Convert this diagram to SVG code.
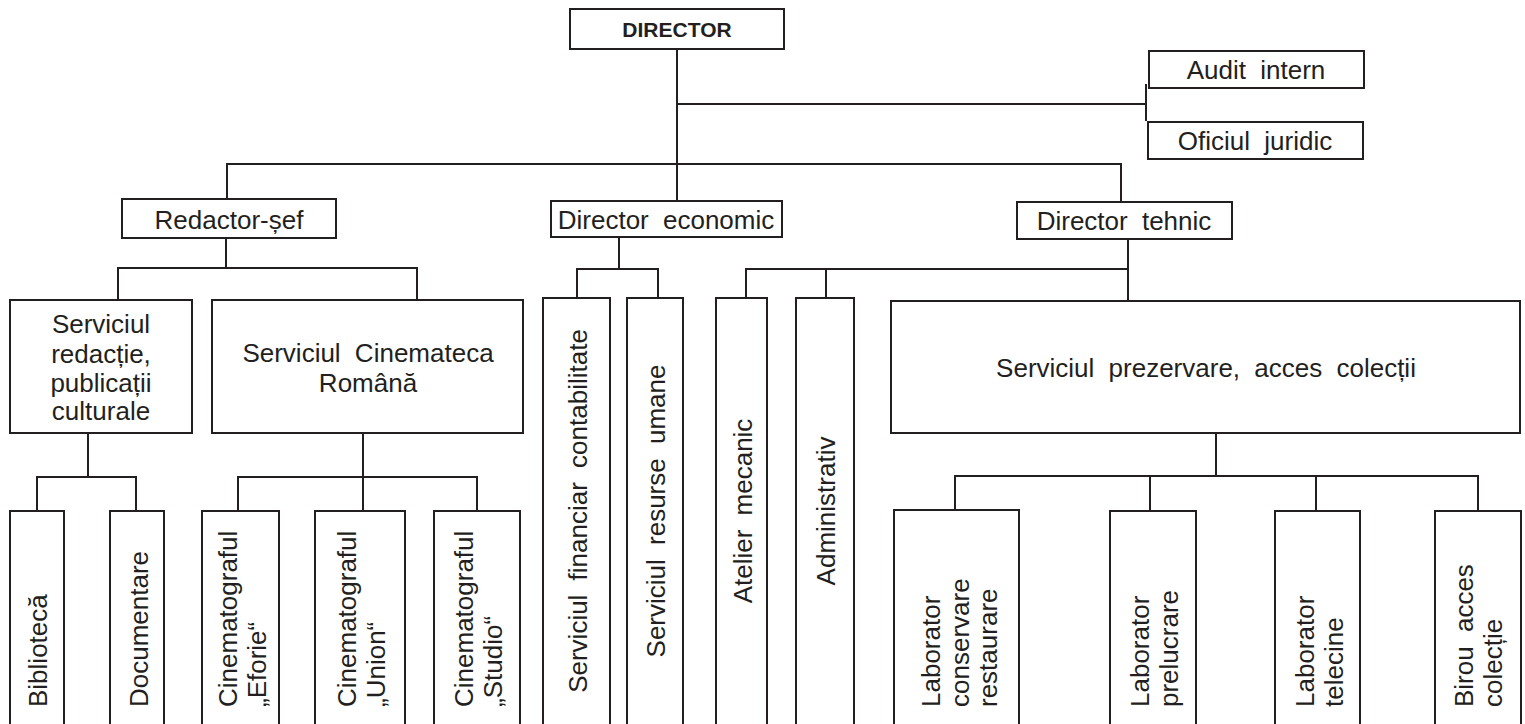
<svg xmlns="http://www.w3.org/2000/svg" width="1525" height="724" viewBox="0 0 1525 724">
<style>
rect.b{fill:#fff;stroke:#231f20;stroke-width:2}
.c line{stroke:#231f20;stroke-width:2}
text{font-family:"Liberation Sans",Arial,sans-serif;font-size:26px;fill:#231f20;word-spacing:7px}
text.m{text-anchor:middle}
text.bold{font-weight:bold;font-size:21px;text-anchor:middle}
</style>
<rect width="1525" height="724" fill="#fff"/>
<g class="c" id="connectors">
<line x1="677" y1="49" x2="677" y2="201"/>
<line x1="677" y1="104" x2="1146" y2="104"/>
<line x1="1146" y1="84" x2="1146" y2="121"/>
<line x1="226" y1="164" x2="1122" y2="164"/>
<line x1="227" y1="164" x2="227" y2="199"/>
<line x1="1121" y1="164" x2="1121" y2="202"/>
<line x1="226" y1="238" x2="226" y2="268"/>
<line x1="117" y1="268" x2="418" y2="268"/>
<line x1="118" y1="268" x2="118" y2="300"/>
<line x1="417" y1="268" x2="417" y2="300"/>
<line x1="619" y1="237" x2="619" y2="269"/>
<line x1="576" y1="269" x2="659" y2="269"/>
<line x1="577" y1="269" x2="577" y2="298"/>
<line x1="658" y1="269" x2="658" y2="298"/>
<line x1="1128" y1="239" x2="1128" y2="301"/>
<line x1="745" y1="269" x2="1128" y2="269"/>
<line x1="746" y1="269" x2="746" y2="298"/>
<line x1="826" y1="269" x2="826" y2="298"/>
<line x1="88" y1="433" x2="88" y2="477"/>
<line x1="36" y1="477" x2="137" y2="477"/>
<line x1="37" y1="477" x2="37" y2="511"/>
<line x1="136" y1="477" x2="136" y2="511"/>
<line x1="363" y1="433" x2="363" y2="511"/>
<line x1="237" y1="477" x2="478" y2="477"/>
<line x1="238" y1="477" x2="238" y2="511"/>
<line x1="477" y1="477" x2="477" y2="511"/>
<line x1="1216" y1="433" x2="1216" y2="476"/>
<line x1="954" y1="476" x2="1479" y2="476"/>
<line x1="955" y1="476" x2="955" y2="510"/>
<line x1="1150" y1="476" x2="1150" y2="511"/>
<line x1="1316" y1="476" x2="1316" y2="511"/>
<line x1="1478" y1="476" x2="1478" y2="511"/>
</g>
<g id="director"><rect class="b" x="570" y="9" width="214" height="40"/><text class="bold" x="677" y="37">DIRECTOR</text></g>
<g id="audit"><rect class="b" x="1149" y="51" width="215" height="37"/><text class="m" x="1256" y="79">Audit intern</text></g>
<g id="oficiul"><rect class="b" x="1148" y="122" width="215" height="37"/><text class="m" x="1255" y="150">Oficiul juridic</text></g>
<g id="redactor"><rect class="b" x="122" y="199" width="214" height="39"/><text class="m" x="229" y="229">Redactor-șef</text></g>
<g id="dir-economic"><rect class="b" x="551" y="201" width="231" height="36"/><text class="m" x="666" y="229">Director economic</text></g>
<g id="dir-tehnic"><rect class="b" x="1017" y="202" width="215" height="37"/><text class="m" x="1124" y="230">Director tehnic</text></g>
<g id="redactie"><rect class="b" x="10" y="300" width="182" height="133"/><text class="m" x="101" y="333">Serviciul<tspan x="101" dy="29.5">redacție,</tspan><tspan x="101" dy="29">publicații</tspan><tspan x="101" dy="28.5">culturale</tspan></text></g>
<g id="cinemateca"><rect class="b" x="212" y="300" width="311" height="133"/><text class="m" x="368" y="362">Serviciul Cinemateca<tspan x="368" dy="30">Română</tspan></text></g>
<g id="financiar"><rect class="b" x="543" y="298" width="67" height="440"/><text class="m" transform="translate(587,511) rotate(-90)">Serviciul financiar contabilitate</text></g>
<g id="resurse"><rect class="b" x="627" y="298" width="56" height="440"/><text class="m" transform="translate(665,511) rotate(-90)">Serviciul resurse umane</text></g>
<g id="atelier"><rect class="b" x="716" y="298" width="51" height="440"/><text class="m" transform="translate(752,511) rotate(-90)">Atelier mecanic</text></g>
<g id="administrativ"><rect class="b" x="796" y="298" width="58" height="440"/><text class="m" transform="translate(835,511) rotate(-90)">Administrativ</text></g>
<g id="prezervare"><rect class="b" x="891" y="301" width="629" height="132"/><text class="m" x="1206" y="377">Serviciul prezervare, acces colecții</text></g>
<g id="biblioteca"><rect class="b" x="10" y="511" width="54" height="230"/><text transform="translate(47,707) rotate(-90)">Bibliotecă</text></g>
<g id="documentare"><rect class="b" x="110" y="511" width="54" height="230"/><text transform="translate(148,707) rotate(-90)">Documentare</text></g>
<g id="eforie"><rect class="b" x="202" y="511" width="77" height="230"/><text transform="translate(237,707) rotate(-90)">Cinematograful<tspan x="0" dy="29">„Eforie“</tspan></text></g>
<g id="union"><rect class="b" x="315" y="511" width="90" height="230"/><text transform="translate(356,707) rotate(-90)">Cinematograful<tspan x="0" dy="28.5">„Union“</tspan></text></g>
<g id="studio"><rect class="b" x="434" y="511" width="86" height="230"/><text transform="translate(473,707) rotate(-90)">Cinematograful<tspan x="0" dy="29">„Studio“</tspan></text></g>
<g id="lab-conservare"><rect class="b" x="894" y="510" width="125" height="230"/><text transform="translate(940,707) rotate(-90)">Laborator<tspan x="0" dy="28.5">conservare</tspan><tspan x="0" dy="28.5">restaurare</tspan></text></g>
<g id="lab-prelucrare"><rect class="b" x="1110" y="511" width="86" height="230"/><text transform="translate(1149,707) rotate(-90)">Laborator<tspan x="0" dy="29">prelucrare</tspan></text></g>
<g id="lab-telecine"><rect class="b" x="1275" y="511" width="85" height="230"/><text transform="translate(1314,707) rotate(-90)">Laborator<tspan x="0" dy="29">telecine</tspan></text></g>
<g id="birou"><rect class="b" x="1435" y="511" width="86" height="230"/><text transform="translate(1473,707) rotate(-90)">Birou acces<tspan x="0" dy="29">colecție</tspan></text></g>
</svg>
